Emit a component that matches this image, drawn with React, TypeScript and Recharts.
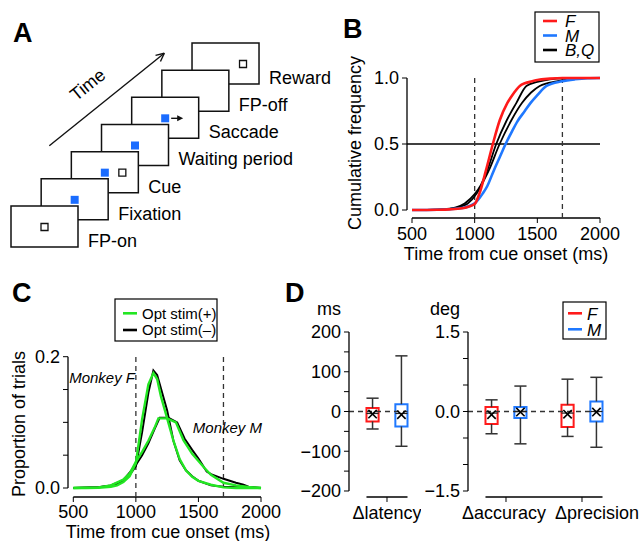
import React from 'react';
import {
  LineChart,
  Line,
  XAxis,
  YAxis,
  ReferenceLine,
  ReferenceArea,
  ComposedChart,
  Scatter,
} from 'recharts';

const FONT = '"Liberation Sans", Arial, Helvetica, sans-serif';
const RED = '#ff1a1a';
const BLUE = '#1f78ff';
const GREEN = '#22e622';
const SQ_BLUE = '#1a6cff';
const INK = '#111';

// ---------- Panel A : task sequence ----------
const stageNames = ['FP-on', 'Fixation', 'Cue', 'Waiting period', 'Saccade', 'FP-off', 'Reward'];
const centerStim = ['open', 'blue', 'blue', 'blue', 'blue', 'none', 'none'];
const targetStim = [false, false, true, false, false, false, true];
const saccadeArrow = [false, false, false, false, true, false, false];

// ---------- Panel B : cumulative latency distributions ----------
const cdfF_t = [500, 700, 800, 900, 950, 1000, 1040, 1090, 1145, 1200, 1260, 1300, 1360, 1400, 1460, 1500, 1600, 1700, 2000];
const cdfF_p = [0, 0.002, 0.005, 0.013, 0.025, 0.045, 0.13, 0.3, 0.5, 0.68, 0.81, 0.87, 0.94, 0.96, 0.975, 0.985, 0.995, 1, 1];
const cdfM_t = [500, 700, 800, 900, 1000, 1065, 1100, 1153, 1200, 1247, 1300, 1340, 1400, 1445, 1500, 1573, 1695, 1800, 1900, 2000];
const cdfM_p = [0, 0.002, 0.006, 0.015, 0.05, 0.126, 0.18, 0.3, 0.4, 0.5, 0.6, 0.67, 0.75, 0.81, 0.87, 0.94, 0.975, 0.99, 0.998, 1];
const cdfB_t = [500, 700, 800, 850, 920, 1000, 1050, 1100, 1172, 1256, 1332, 1413, 1500, 1600, 1700, 2000];
const cdfB_p = [0, 0.003, 0.01, 0.02, 0.05, 0.12, 0.19, 0.3, 0.5, 0.68, 0.81, 0.94, 0.97, 0.99, 0.998, 1];
const cdfQ_t = [500, 700, 800, 900, 945, 1017, 1060, 1113, 1199, 1293, 1377, 1450, 1519, 1653, 1750, 1850, 2000];
const cdfQ_p = [0, 0.002, 0.008, 0.03, 0.05, 0.126, 0.2, 0.3, 0.5, 0.68, 0.81, 0.89, 0.94, 0.975, 0.99, 1, 1];

// ---------- Panel C : latency histograms ----------
const cFon_t = [500, 600, 700, 800, 850, 900, 950, 1000, 1050, 1100, 1140, 1170, 1200, 1250, 1300, 1350, 1400, 1450, 1500, 1600, 1700, 1800, 2000];
const cFon_p = [0, 0, 0.0005, 0.002, 0.004, 0.009, 0.018, 0.038, 0.105, 0.158, 0.175, 0.166, 0.14, 0.106, 0.072, 0.044, 0.027, 0.017, 0.011, 0.005, 0.001, 0, 0];
const cFoff_t = [500, 700, 800, 900, 950, 1000, 1050, 1100, 1140, 1170, 1200, 1250, 1300, 1350, 1400, 1450, 1500, 1600, 1700, 1800, 1900, 2000];
const cFoff_p = [0, 0.001, 0.003, 0.01, 0.02, 0.033, 0.085, 0.145, 0.179, 0.172, 0.152, 0.118, 0.072, 0.042, 0.027, 0.018, 0.011, 0.004, 0.002, 0.001, 0, 0];
const cMon_t = [500, 700, 800, 900, 950, 1000, 1050, 1100, 1150, 1180, 1250, 1320, 1380, 1450, 1500, 1550, 1600, 1700, 1800, 1900, 2000];
const cMon_p = [0, 0.001, 0.004, 0.013, 0.022, 0.04, 0.055, 0.072, 0.092, 0.106, 0.106, 0.1, 0.073, 0.052, 0.041, 0.03, 0.02, 0.008, 0.004, 0.0015, 0];
const cMoff_t = [500, 700, 800, 900, 1000, 1050, 1100, 1150, 1190, 1260, 1330, 1390, 1450, 1500, 1566, 1600, 1700, 1800, 1860, 1900, 2000];
const cMoff_p = [0, 0.001, 0.004, 0.012, 0.035, 0.05, 0.068, 0.09, 0.107, 0.107, 0.1, 0.075, 0.058, 0.045, 0.025, 0.021, 0.014, 0.008, 0.005, 0.002, 0];

// ---------- Panel D : box plots  [min, q1, median, q3, max, mean] ----------
const latF = [-44, -25, -5, 8.5, 33.5, -6.5];
const latM = [-87.5, -37.5, -5, 18.5, 140, -8];
const accF = [-0.42, -0.236, -0.03, 0.083, 0.22, -0.06];
const accM = [-0.61, -0.124, 0.0, 0.083, 0.48, -0.01];
const precF = [-0.47, -0.29, -0.03, 0.126, 0.61, -0.05];
const precM = [-0.675, -0.19, 0.0, 0.19, 0.645, -0.01];
const latencyLabels = ['\u0394latency'];
const deviationLabels = ['\u0394accuracy', '\u0394precision'];
const latencyTicks = [-200, -150, -100, -50, 0, 50, 100, 150, 200];
const degTicks = [-1.5, -1, -0.5, 0, 0.5, 1, 1.5];

const pts = (xs: number[], ys: number[]) => xs.map((x, i) => ({ x, y: ys[i] }));
const axisTick = { fill: '#000', fontSize: 18, fontFamily: FONT };
const minus = (s: string) => s.replace('-', '\u2212');

// ---------------- Panel A ----------------
function PanelA() {
  const X0 = 11, Y0 = 206, SX = 30.17, SY = 27.17, W = 67, H = 41;
  const items: React.ReactNode[] = [];
  const tips: { x: number; y: number }[] = [];
  for (let i = stageNames.length - 1; i >= 0; i--) {
    const fx = X0 + SX * i;
    const fy = Y0 - SY * i;
    items.push(
      <ReferenceArea key={`fr${i}`} x1={fx} x2={fx + W} y1={fy} y2={fy + H}
        fill="#fff" fillOpacity={1} stroke={INK} strokeWidth={1.5} ifOverflow="visible" />
    );
    const cx = fx + 33.5;
    const cy = fy + 21;
    if (centerStim[i] === 'open') {
      items.push(<ReferenceArea key={`co${i}`} x1={cx - 3.5} x2={cx + 3.5} y1={cy - 3.5} y2={cy + 3.5}
        fill="#fff" fillOpacity={1} stroke={INK} strokeWidth={1.3} ifOverflow="visible" />);
    } else if (centerStim[i] === 'blue') {
      items.push(<ReferenceArea key={`cb${i}`} x1={cx - 4} x2={cx + 4} y1={cy - 4} y2={cy + 4}
        fill={SQ_BLUE} fillOpacity={1} stroke="none" ifOverflow="visible" />);
    }
    if (targetStim[i]) {
      const tx = fx + 51;
      items.push(<ReferenceArea key={`t${i}`} x1={tx - 3.5} x2={tx + 3.5} y1={cy - 3.5} y2={cy + 3.5}
        fill="#fff" fillOpacity={1} stroke={INK} strokeWidth={1.3} ifOverflow="visible" />);
    }
    if (saccadeArrow[i]) {
      items.push(<ReferenceLine key={`ar${i}`} segment={[{ x: cx + 6, y: cy }, { x: cx + 14, y: cy }]}
        stroke={INK} strokeWidth={1.4} ifOverflow="visible" />);
      tips.push({ x: cx + 18, y: cy });
    }
  }
  // time arrow
  const sx = 49.3, sy = 145.7, ex = 164.3, ey = 53.3;
  const ang = Math.atan2(ey - sy, ex - sx);
  const hl = 9, ha = 0.45;
  const h1 = { x: ex - hl * Math.cos(ang - ha), y: ey - hl * Math.sin(ang - ha) };
  const h2 = { x: ex - hl * Math.cos(ang + ha), y: ey - hl * Math.sin(ang + ha) };
  const tri = (p: any) => {
    const { cx, cy } = p;
    return <path d={`M${cx},${cy} L${cx - 6},${cy - 3} L${cx - 6},${cy + 3} Z`} fill={INK} />;
  };
  return (
    <div style={{ position: 'absolute', left: 0, top: 0 }}>
      <ComposedChart width={320} height={270} margin={{ top: 0, right: 0, bottom: 0, left: 0 }}>
        <XAxis type="number" dataKey="x" domain={[0, 320]} hide allowDataOverflow />
        <YAxis type="number" dataKey="y" domain={[0, 270]} reversed hide allowDataOverflow />
        {items}
        <ReferenceLine segment={[{ x: sx, y: sy }, { x: ex, y: ey }]} stroke={INK} strokeWidth={1.4} ifOverflow="visible" />
        <ReferenceLine segment={[{ x: ex, y: ey }, h1]} stroke={INK} strokeWidth={1.4} ifOverflow="visible" />
        <ReferenceLine segment={[{ x: ex, y: ey }, h2]} stroke={INK} strokeWidth={1.4} ifOverflow="visible" />
        <Scatter data={tips} dataKey="y" shape={tri} isAnimationActive={false} />
      </ComposedChart>
    </div>
  );
}

// ---------------- Panel B ----------------
function PanelB() {
  const xl = 460.1, yb = -0.0606;
  return (
    <div style={{ position: 'absolute', left: 320, top: 0 }}>
      <LineChart width={321} height={270} margin={{ top: 78, right: 41, bottom: 0, left: 0 }}>
        <XAxis type="number" dataKey="x" domain={[xl, 2000]} ticks={[500, 1000, 1500, 2000]} interval={0}
          axisLine={false} stroke="#000" tickSize={5} tickMargin={4} height={52} tick={axisTick} />
        <YAxis type="number" domain={[yb, 1]} ticks={[0, 0.5, 1]} interval={0} tickFormatter={(v: number) => v.toFixed(1)}
          axisLine={false} stroke="#000" tickSize={5} tickMargin={3} width={87} tick={axisTick} />
        <ReferenceLine segment={[{ x: xl, y: 0 }, { x: xl, y: 1 }]} stroke="#000" strokeWidth={1.3} ifOverflow="visible" />
        <ReferenceLine segment={[{ x: 500, y: yb }, { x: 2000, y: yb }]} stroke="#000" strokeWidth={1.3} ifOverflow="visible" />
        <ReferenceLine segment={[{ x: xl, y: 0.5 }, { x: 2000, y: 0.5 }]} stroke="#000" strokeWidth={1.3} ifOverflow="visible" />
        <ReferenceLine segment={[{ x: 1000, y: yb }, { x: 1000, y: 1 }]} stroke="#333" strokeWidth={1.3} strokeDasharray="5 4" ifOverflow="visible" />
        <ReferenceLine segment={[{ x: 1700, y: yb }, { x: 1700, y: 1 }]} stroke="#333" strokeWidth={1.3} strokeDasharray="5 4" ifOverflow="visible" />
        <Line data={pts(cdfB_t, cdfB_p)} dataKey="y" type="monotone" stroke="#000" strokeWidth={1.8} dot={false} isAnimationActive={false} />
        <Line data={pts(cdfQ_t, cdfQ_p)} dataKey="y" type="monotone" stroke="#000" strokeWidth={1.8} dot={false} isAnimationActive={false} />
        <Line data={pts(cdfM_t, cdfM_p)} dataKey="y" type="monotone" stroke={BLUE} strokeWidth={2.6} dot={false} isAnimationActive={false} />
        <Line data={pts(cdfF_t, cdfF_p)} dataKey="y" type="monotone" stroke={RED} strokeWidth={2.6} dot={false} isAnimationActive={false} />
      </LineChart>
    </div>
  );
}

// ---------------- Panel C ----------------
function PanelC() {
  const xl = 457.6, yb = -0.0137;
  const fmt = (v: number) => (v === 0 ? '0.0' : v === 0.2 ? '0.2' : '');
  return (
    <div style={{ position: 'absolute', left: 0, top: 270 }}>
      <LineChart width={320} height={271} margin={{ top: 86.7, right: 59, bottom: 0, left: 0 }}>
        <XAxis type="number" dataKey="x" domain={[xl, 2000]} ticks={[500, 1000, 1500, 2000]} interval={0}
          axisLine={false} stroke="#000" tickSize={5} tickMargin={3} height={44} tick={axisTick} />
        <YAxis type="number" domain={[yb, 0.2]} ticks={[0, 0.05, 0.1, 0.15, 0.2]} interval={0} tickFormatter={fmt}
          axisLine={false} stroke="#000" tickSize={5} tickMargin={3} width={68} tick={axisTick} />
        <ReferenceLine segment={[{ x: xl, y: 0 }, { x: xl, y: 0.2 }]} stroke="#000" strokeWidth={1.3} ifOverflow="visible" />
        <ReferenceLine segment={[{ x: 500, y: yb }, { x: 2000, y: yb }]} stroke="#000" strokeWidth={1.3} ifOverflow="visible" />
        <ReferenceLine segment={[{ x: 1000, y: yb }, { x: 1000, y: 0.2 }]} stroke="#333" strokeWidth={1.3} strokeDasharray="5 4" ifOverflow="visible" />
        <ReferenceLine segment={[{ x: 1700, y: yb }, { x: 1700, y: 0.2 }]} stroke="#333" strokeWidth={1.3} strokeDasharray="5 4" ifOverflow="visible" />
        <Line data={pts(cFoff_t, cFoff_p)} dataKey="y" type="linear" stroke="#000" strokeWidth={2} dot={false} isAnimationActive={false} />
        <Line data={pts(cMoff_t, cMoff_p)} dataKey="y" type="linear" stroke="#000" strokeWidth={2} dot={false} isAnimationActive={false} />
        <Line data={pts(cFon_t, cFon_p)} dataKey="y" type="linear" stroke={GREEN} strokeWidth={2.4} dot={false} isAnimationActive={false} />
        <Line data={pts(cMon_t, cMon_p)} dataKey="y" type="linear" stroke={GREEN} strokeWidth={2.4} dot={false} isAnimationActive={false} />
      </LineChart>
    </div>
  );
}

// ---------------- Panel D ----------------
const XMark = (p: any) => {
  const { cx, cy } = p;
  const s = 4.2;
  return (
    <g>
      <line x1={cx - s} y1={cy - s} x2={cx + s} y2={cy + s} stroke="#000" strokeWidth={1.6} />
      <line x1={cx - s} y1={cy + s} x2={cx + s} y2={cy - s} stroke="#000" strokeWidth={1.6} />
    </g>
  );
};

function BoxChart(props: {
  left: number; yAxisW: number; xMax: number; yLo: number; yHi: number; yFloor: number; padRight: number;
  yTicks: number[]; fmt: (v: number) => string; groups: number[][][]; labels: string[]; labelDx: number[];
}) {
  const { left, yAxisW, xMax, yLo, yHi, yFloor, padRight, yTicks, fmt, groups, labels, labelDx } = props;
  const PXU = 76;
  const plotW = (xMax - 0.5) * PXU;
  const OFF = 0.19, HW = 0.08;
  const last = groups.length;
  const xEnd = last + OFF + HW;
  const means: { x: number; y: number }[] = [];
  const parts: React.ReactNode[] = [];
  const WH = '#333';
  groups.forEach((pair, g) => {
    pair.forEach((s, k) => {
      const x = g + 1 + (k === 0 ? -OFF : OFF);
      const col = k === 0 ? RED : BLUE;
      const [mn, q1, md, q3, mx, mean] = s;
      const key = `${g}-${k}`;
      parts.push(<ReferenceLine key={`wu${key}`} segment={[{ x, y: q3 }, { x, y: mx }]} stroke={WH} strokeWidth={1.5} ifOverflow="visible" />);
      parts.push(<ReferenceLine key={`wd${key}`} segment={[{ x, y: q1 }, { x, y: mn }]} stroke={WH} strokeWidth={1.5} ifOverflow="visible" />);
      parts.push(<ReferenceLine key={`cu${key}`} segment={[{ x: x - HW, y: mx }, { x: x + HW, y: mx }]} stroke={WH} strokeWidth={1.5} ifOverflow="visible" />);
      parts.push(<ReferenceLine key={`cd${key}`} segment={[{ x: x - HW, y: mn }, { x: x + HW, y: mn }]} stroke={WH} strokeWidth={1.5} ifOverflow="visible" />);
      parts.push(<ReferenceArea key={`bx${key}`} x1={x - HW} x2={x + HW} y1={q1} y2={q3} fill="#fff" fillOpacity={1} stroke={col} strokeWidth={2} ifOverflow="visible" />);
      parts.push(<ReferenceLine key={`md${key}`} segment={[{ x: x - HW, y: md }, { x: x + HW, y: md }]} stroke="#222" strokeWidth={1.2} ifOverflow="visible" />);
      means.push({ x, y: mean });
    });
  });
  const tickFn = (p: any) => {
    const { x, y, payload } = p;
    const i = Math.round(payload.value) - 1;
    return (
      <text x={x + (labelDx[i] || 0)} y={y} dy="0.71em" textAnchor="middle" fontSize={18} fontFamily={FONT} fill="#000">
        {labels[i]}
      </text>
    );
  };
  return (
    <div style={{ position: 'absolute', left, top: 270 }}>
      <ComposedChart width={yAxisW + plotW + padRight} height={271} margin={{ top: 62, right: padRight, bottom: 0, left: 0 }}>
        <XAxis type="number" dataKey="x" domain={[0.5, xMax]} ticks={labels.map((_, i) => i + 1)} interval={0}
          axisLine={false} stroke="#000" tickSize={5} tickMargin={4} height={44} tick={tickFn} />
        <YAxis type="number" dataKey="y" domain={[yFloor, yHi]} ticks={yTicks} interval={0} tickFormatter={fmt}
          axisLine={false} stroke="#000" tickSize={5} tickMargin={3} width={yAxisW} tick={axisTick} />
        <ReferenceLine segment={[{ x: 0.5, y: 0 }, { x: xEnd, y: 0 }]} stroke="#333" strokeWidth={1.3} strokeDasharray="5 4" ifOverflow="visible" />
        <ReferenceLine segment={[{ x: 0.5, y: yLo }, { x: 0.5, y: yHi }]} stroke="#000" strokeWidth={1.3} ifOverflow="visible" />
        <ReferenceLine segment={[{ x: 1 - OFF - HW, y: yFloor }, { x: xEnd, y: yFloor }]} stroke="#000" strokeWidth={1.3} ifOverflow="visible" />
        {parts}
        <Scatter data={means} dataKey="y" shape={XMark} isAnimationActive={false} />
      </ComposedChart>
    </div>
  );
}

// ---------------- Annotations ----------------
const T = (p: { x: number; y: number; children: React.ReactNode; size?: number; anchor?: string; italic?: boolean; bold?: boolean; rot?: number }) => {
  const { x, y, children, size = 18, anchor = 'start', italic = false, bold = false, rot = 0 } = p;
  return (
    <text x={x} y={y} fontSize={size} textAnchor={anchor as any} fontStyle={italic ? 'italic' : 'normal'}
      fontWeight={bold ? 'bold' : 'normal'} fontFamily={FONT} fill="#000"
      transform={rot ? `rotate(${rot} ${x} ${y})` : undefined}>
      {children}
    </text>
  );
};

function Overlay() {
  const X0 = 11, Y0 = 206, SX = 30.17, SY = 27.17, W = 67, H = 41;
  return (
    <svg width={641} height={541} style={{ position: 'absolute', left: 0, top: 0, pointerEvents: 'none' }}>
      {/* panel letters */}
      <T x={13} y={42} size={27} bold>A</T>
      <T x={343} y={38} size={27} bold>B</T>
      <T x={12} y={302} size={27} bold>C</T>
      <T x={285} y={302} size={27} bold>D</T>

      {/* Panel A labels */}
      {stageNames.map((n, i) => (
        <T key={n} x={X0 + SX * i + W + 10} y={Y0 - SY * i + H}>{n}</T>
      ))}
      <T x={91.5} y={89.5} anchor="middle" rot={-38.8}>Time</T>

      {/* Panel B */}
      <T x={361} y={143} anchor="middle" rot={-90}>Cumulative frequency</T>
      <T x={506} y={260} anchor="middle">Time from cue onset (ms)</T>
      <rect x={535} y={12} width={64} height={50} fill="#fff" stroke="#000" strokeWidth={1.2} />
      <line x1={543} y1={21} x2={557} y2={21} stroke={RED} strokeWidth={2.6} />
      <line x1={543} y1={35.5} x2={557} y2={35.5} stroke={BLUE} strokeWidth={2.6} />
      <line x1={543} y1={50} x2={557} y2={50} stroke="#000" strokeWidth={2.6} />
      <T x={565} y={27} size={17} italic>F</T>
      <T x={565} y={41.5} size={17} italic>M</T>
      <T x={565} y={56} size={17} italic>B,Q</T>

      {/* Panel C */}
      <T x={25} y={424} anchor="middle" rot={-90}>Proportion of trials</T>
      <T x={168} y={538} anchor="middle">Time from cue onset (ms)</T>
      <T x={135} y={383} size={15} anchor="end" italic>Monkey F</T>
      <T x={262} y={433} size={15} anchor="end" italic>Monkey M</T>
      <rect x={115} y={299} width={102} height={42} fill="#fff" stroke="#000" strokeWidth={1.2} />
      <line x1={123} y1={313.3} x2={137} y2={313.3} stroke={GREEN} strokeWidth={2.6} />
      <line x1={123} y1={330} x2={137} y2={330} stroke="#000" strokeWidth={2.6} />
      <T x={142} y={318.7} size={15}>Opt stim(+)</T>
      <T x={142} y={335.4} size={15}>Opt stim(–)</T>

      {/* Panel D */}
      <T x={329} y={315} anchor="middle">ms</T>
      <T x={445} y={315} anchor="middle">deg</T>
      <rect x={563} y={302} width={43} height={37} fill="#fff" stroke="#000" strokeWidth={1.2} />
      <line x1={568} y1={313.3} x2={582} y2={313.3} stroke={RED} strokeWidth={2.6} />
      <line x1={568} y1={329.3} x2={582} y2={329.3} stroke={BLUE} strokeWidth={2.6} />
      <T x={587} y={319.5} size={17} italic>F</T>
      <T x={587} y={335.5} size={17} italic>M</T>
    </svg>
  );
}

export default function App() {
  const latFmt = (v: number) => ([200, 100, 0, -100, -200].includes(v) ? minus(String(v)) : '');
  const degFmt = (v: number) => (v === 1.5 ? '1.5' : v === 0 ? '0.0' : v === -1.5 ? '\u22121.5' : '');
  return (
    <div style={{ position: 'absolute', left: 0, top: 0, width: 641, height: 541, background: '#fff', fontFamily: FONT, overflow: 'hidden' }}>
      <PanelA />
      <PanelB />
      <PanelC />
      <BoxChart left={290} yAxisW={59} xMax={1.45} yLo={-200} yHi={200} yFloor={-215.1} padRight={0}
        yTicks={latencyTicks} fmt={latFmt} groups={[[latF, latM]]} labels={latencyLabels} labelDx={[0]} />
      <BoxChart left={410} yAxisW={58} xMax={2.4} yLo={-1.5} yHi={1.5} yFloor={-1.613} padRight={30}
        yTicks={degTicks} fmt={degFmt} groups={[[accF, accM], [precF, precM]]} labels={deviationLabels} labelDx={[-2, 15]} />
      <Overlay />
    </div>
  );
}
